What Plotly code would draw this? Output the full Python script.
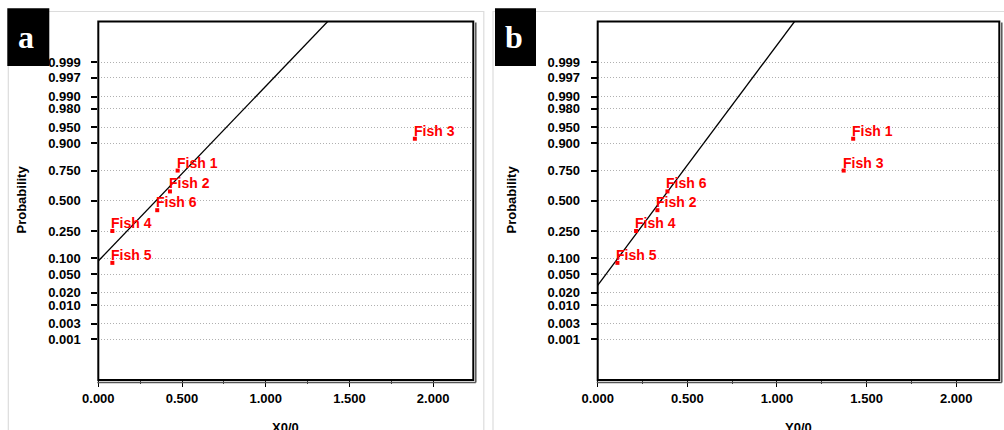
import plotly.graph_objects as go
from statistics import NormalDist

W, H = 1004, 430
ND = NormalDist()

# ---------------- data ----------------
fish_names = ["Fish 1", "Fish 2", "Fish 3", "Fish 4", "Fish 5", "Fish 6"]
a_x = [0.474, 0.428, 1.891, 0.084, 0.084, 0.352]
a_prob = [0.750, 0.583, 0.917, 0.250, 0.083, 0.417]
b_x = [1.425, 0.333, 1.372, 0.214, 0.110, 0.389]
b_prob = [0.917, 0.417, 0.750, 0.250, 0.083, 0.583]

fit_a_x = [0.0, 1.373]
fit_a_prob = [0.0895, 0.99997]
fit_b_x = [0.0, 1.100]
fit_b_prob = [0.0296, 0.99997]

prob_ticks = [0.999, 0.997, 0.990, 0.980, 0.950, 0.900, 0.750, 0.500,
              0.250, 0.100, 0.050, 0.020, 0.010, 0.003, 0.001]
x_ticks = [0.0, 0.5, 1.0, 1.5, 2.0]
x_titles = ["X0/0", "Y0/0"]
panel_letters = ["a", "b"]


def z(p):
    return ND.inv_cdf(p)


def px(x):
    return x / W


def py(y):
    return 1 - y / H


FONT = "Liberation Sans, Arial, sans-serif"
RED = "#ff0000"

# panel geometry in pixels
panels = [
    dict(l=98.3, r=473.3, xs=a_x, ps=a_prob, fx=fit_a_x, fp=fit_a_prob),
    dict(l=597.7, r=999.3, xs=b_x, ps=b_prob, fx=fit_b_x, fp=fit_b_prob),
]
top, bottom = 21.6, 380.0

fig = go.Figure()
shapes = []
annotations = []

for i, pnl in enumerate(panels):
    xa = "x" if i == 0 else "x2"
    ya = "y" if i == 0 else "y2"
    # fitted line
    fig.add_trace(go.Scatter(
        x=pnl["fx"], y=[z(p) for p in pnl["fp"]], mode="lines",
        line=dict(color="black", width=1.3), xaxis=xa, yaxis=ya,
        showlegend=False, hoverinfo="skip"))
    # points
    fig.add_trace(go.Scatter(
        x=pnl["xs"], y=[z(p) for p in pnl["ps"]], mode="markers",
        marker=dict(color=RED, size=4, symbol="square"),
        xaxis=xa, yaxis=ya, showlegend=False, cliponaxis=False))
    for name, xv, pv in zip(fish_names, pnl["xs"], pnl["ps"]):
        annotations.append(dict(
            x=xv, y=z(pv), xref=xa, yref=ya, text=name, showarrow=False,
            xanchor="left", yanchor="bottom", xshift=-3, yshift=-2,
            font=dict(family=FONT, size=14, color=RED, weight="bold")))

    # light grey panel frame
    fl = 8.3 if i == 0 else 493.0
    fr = 483.8 if i == 0 else 1010
    shapes.append(dict(type="rect", xref="paper", yref="paper",
                       x0=px(fl), x1=px(fr), y0=py(440), y1=py(11.5),
                       line=dict(color="#dcdcdc", width=1.2), layer="below"))
    # black letter box
    bl = 7.3 if i == 0 else 495.0
    br = 49.3 if i == 0 else 536.0
    shapes.append(dict(type="rect", xref="paper", yref="paper",
                       x0=px(bl), x1=px(br), y0=py(66), y1=py(8.3),
                       fillcolor="black", line=dict(width=0), layer="above"))
    annotations.append(dict(
        x=px((bl + br) / 2 - 2), y=py(37), xref="paper", yref="paper",
        text=panel_letters[i], showarrow=False, xanchor="center", yanchor="middle",
        font=dict(family="Liberation Serif, Times New Roman, serif", size=32,
                  color="white", weight="bold")))

    # plot frame (top/left black, right/bottom double)
    l, r = pnl["l"], pnl["r"]
    shapes.append(dict(type="rect", xref="paper", yref="paper",
                       x0=px(l), x1=px(r), y0=py(bottom), y1=py(top),
                       line=dict(color="black", width=2)))
    shapes.append(dict(type="line", xref="paper", yref="paper",
                       x0=px(r + 2.5), x1=px(r + 2.5), y0=py(bottom + 2.5), y1=py(top + 1),
                       line=dict(color="#555555", width=1.5)))
    shapes.append(dict(type="line", xref="paper", yref="paper",
                       x0=px(l - 1), x1=px(r + 2.5), y0=py(bottom + 2.5), y1=py(bottom + 2.5),
                       line=dict(color="#555555", width=1.5)))

    # axis titles
    annotations.append(dict(
        x=px((l + r) / 2), y=py(417.5), xref="paper", yref="paper",
        text=x_titles[i], showarrow=False, xanchor="center", yanchor="top",
        font=dict(family=FONT, size=13, color="black", weight="bold")))
    annotations.append(dict(
        x=px(21.5 if i == 0 else 511.5), y=py(200), xref="paper", yref="paper",
        text="Probability", showarrow=False, textangle=-90,
        xanchor="center", yanchor="middle",
        font=dict(family=FONT, size=13, color="black", weight="bold")))

tickfont = dict(family=FONT, size=13, color="black", weight="bold")
xaxis_common = dict(
    range=[0, 2.24], tickvals=x_ticks, ticktext=[f"{v:.3f}" for v in x_ticks],
    ticks="outside", ticklen=6, tickcolor="black", tickwidth=1,
    minor=dict(ticks="outside", ticklen=3, dtick=0.25, tick0=0, tickcolor="#333333"),
    showgrid=False, zeroline=False, showline=False, tickfont=tickfont,
    automargin=False, fixedrange=True)
yaxis_common = dict(
    range=[-4, 4], tickvals=[z(p) for p in prob_ticks],
    ticktext=[f"{p:.3f}" for p in prob_ticks],
    ticks="outside", ticklen=6, tickcolor="black", tickwidth=1.5,
    showgrid=True, gridcolor="#b0b0b0", griddash="1px,2px", gridwidth=1,
    zeroline=False, showline=False, tickfont=tickfont, ticklabelstandoff=8,
    automargin=False, fixedrange=True)

dom_y = [py(bottom), py(top)]
fig.update_layout(
    width=W, height=H, margin=dict(l=0, r=0, t=0, b=0, autoexpand=False),
    paper_bgcolor="white", plot_bgcolor="white",
    xaxis=dict(domain=[px(panels[0]["l"]), px(panels[0]["r"])], anchor="y", **xaxis_common),
    yaxis=dict(domain=dom_y, anchor="x", **yaxis_common),
    xaxis2=dict(domain=[px(panels[1]["l"]), px(panels[1]["r"])], anchor="y2", **xaxis_common),
    yaxis2=dict(domain=dom_y, anchor="x2", **yaxis_common),
    shapes=shapes, annotations=annotations, showlegend=False,
)

fig.write_html("out.html")
